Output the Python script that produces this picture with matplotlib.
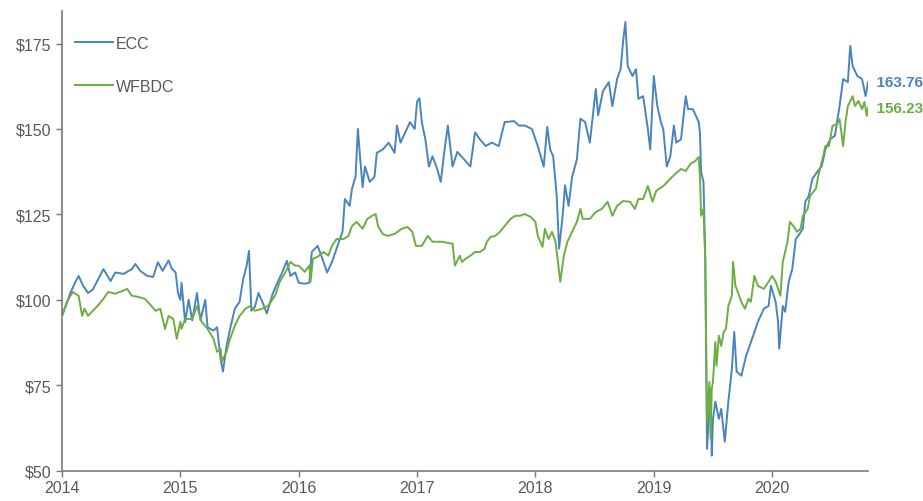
import matplotlib.pyplot as plt

plt.rcParams['font.family'] = ['Liberation Sans', 'DejaVu Sans']

# years since start of 2014, index values
ecc_t = [0.00, 0.04, 0.07, 0.11, 0.14, 0.18, 0.22, 0.26, 0.32, 0.35, 0.41, 0.45, 0.52, 0.59, 0.62,
         0.66, 0.72, 0.77, 0.81, 0.85, 0.90, 0.93, 0.96, 0.98, 1.00, 1.01, 1.04, 1.07, 1.10, 1.14,
         1.17, 1.21, 1.23, 1.28, 1.31, 1.34, 1.36, 1.39, 1.42, 1.46, 1.50, 1.53, 1.56, 1.58, 1.60,
         1.63, 1.66, 1.70, 1.73, 1.78, 1.82, 1.86, 1.90, 1.93, 1.97, 2.00, 2.05, 2.09, 2.11, 2.16,
         2.20, 2.24, 2.28, 2.32, 2.37, 2.39, 2.43, 2.45, 2.48, 2.50, 2.52, 2.54, 2.56, 2.60, 2.64,
         2.66, 2.71, 2.76, 2.81, 2.83, 2.86, 2.90, 2.94, 2.98, 3.00, 3.02, 3.04, 3.07, 3.10, 3.13,
         3.17, 3.20, 3.23, 3.26, 3.30, 3.34, 3.40, 3.45, 3.49, 3.53, 3.58, 3.63, 3.69, 3.74, 3.82,
         3.86, 3.91, 3.97, 4.02, 4.07, 4.10, 4.125, 4.15, 4.18, 4.20, 4.23, 4.25, 4.28, 4.31, 4.35,
         4.38, 4.42, 4.46, 4.51, 4.53, 4.57, 4.62, 4.65, 4.69, 4.72, 4.74, 4.76, 4.78, 4.82, 4.85,
         4.87, 4.91, 4.95, 4.97, 5.00, 5.03, 5.06, 5.08, 5.11, 5.14, 5.17, 5.19, 5.23, 5.27, 5.29,
         5.33, 5.38, 5.39, 5.40, 5.42, 5.435, 5.44, 5.45, 5.48, 5.49, 5.50, 5.52, 5.55, 5.57, 5.60,
         5.63, 5.66, 5.68, 5.70, 5.74, 5.78, 5.84, 5.88, 5.93, 5.97, 5.99, 6.03, 6.05, 6.06, 6.09,
         6.11, 6.14, 6.17, 6.20, 6.22, 6.26, 6.28, 6.31, 6.34, 6.38, 6.42, 6.45, 6.49, 6.53, 6.57,
         6.60, 6.64, 6.66, 6.68, 6.72, 6.76, 6.79, 6.81]
ecc_v = [95.3, 99.0, 102.0, 105.0, 107.0, 104.0, 102.0, 103.0, 107.0, 109.0, 105.5, 108.0, 107.6, 109.0, 110.5,
         108.5, 107.0, 106.7, 111.0, 108.5, 111.5, 109.0, 108.0, 102.0, 100.0, 105.0, 93.5, 100.0, 94.0, 102.0,
         94.0, 100.0, 92.0, 91.0, 92.0, 82.7, 79.0, 86.5, 91.5, 97.4, 99.4, 106.0, 110.0, 114.3, 96.8,
         98.0, 102.0, 98.8, 96.0, 101.8, 105.0, 108.0, 111.4, 107.0, 108.0, 105.0, 104.7, 105.0, 114.0, 115.8,
         112.0, 108.0, 111.0, 115.0, 120.0, 129.5, 127.5, 132.5, 136.0, 150.0, 141.0, 133.0, 139.0, 134.5, 136.0,
         143.0, 144.0, 146.0, 143.0, 151.0, 146.0, 149.0, 152.0, 150.0, 158.0, 159.0, 152.0, 147.0, 139.0, 142.0,
         138.3, 134.5, 143.3, 151.0, 139.0, 143.3, 141.0, 139.0, 149.0, 147.0, 145.0, 146.0, 145.0, 152.0, 152.3,
         151.0, 151.0, 150.0, 145.0, 139.0, 150.6, 144.0, 142.0, 130.4, 115.0, 124.6, 133.5, 127.5, 136.0, 141.0,
         153.0, 152.0, 146.0, 161.7, 154.0, 161.0, 163.7, 156.7, 164.6, 167.5, 175.4, 181.3, 168.4, 165.5, 167.5,
         158.8, 159.6, 150.0, 144.0, 165.5, 156.7, 152.0, 150.0, 139.0, 142.0, 151.0, 146.0, 147.0, 159.6, 155.8,
         155.8, 152.0, 149.0, 137.4, 134.5, 112.9, 93.6, 56.4, 74.0, 54.4, 65.0, 70.2, 65.2, 68.1, 58.5,
         70.2, 79.8, 90.6, 79.0, 77.8, 83.6, 89.5, 93.6, 97.4, 98.2, 104.1, 99.4, 93.6, 85.7, 98.2,
         96.5, 105.3, 109.0, 117.8, 118.7, 120.8, 128.7, 130.4, 135.4, 137.4, 139.2, 144.0, 147.0, 148.0, 156.7,
         164.6, 163.7, 174.3, 168.4, 165.5, 164.6, 159.6, 163.76]

wf_t = [0.00, 0.04, 0.09, 0.14, 0.17, 0.19, 0.22, 0.26, 0.30, 0.35, 0.39, 0.45, 0.51, 0.55, 0.59,
        0.64, 0.70, 0.74, 0.79, 0.83, 0.87, 0.90, 0.94, 0.97, 1.00, 1.01, 1.04, 1.10, 1.14, 1.18,
        1.23, 1.28, 1.31, 1.34, 1.35, 1.39, 1.42, 1.46, 1.50, 1.55, 1.59, 1.63, 1.69, 1.74, 1.80,
        1.84, 1.89, 1.93, 1.97, 2.00, 2.05, 2.09, 2.10, 2.12, 2.16, 2.21, 2.25, 2.28, 2.32, 2.38,
        2.42, 2.45, 2.49, 2.54, 2.58, 2.62, 2.65, 2.67, 2.71, 2.75, 2.81, 2.87, 2.92, 2.96, 2.99,
        3.04, 3.09, 3.13, 3.21, 3.30, 3.32, 3.36, 3.38, 3.41, 3.45, 3.49, 3.53, 3.57, 3.59, 3.62,
        3.66, 3.70, 3.74, 3.79, 3.83, 3.87, 3.91, 3.96, 4.00, 4.02, 4.06, 4.08, 4.11, 4.14, 4.17,
        4.19, 4.21, 4.24, 4.27, 4.31, 4.35, 4.38, 4.40, 4.46, 4.51, 4.56, 4.61, 4.65, 4.69, 4.74,
        4.80, 4.84, 4.87, 4.91, 4.95, 4.99, 5.02, 5.08, 5.14, 5.18, 5.23, 5.27, 5.31, 5.35, 5.38,
        5.39, 5.40, 5.42, 5.435, 5.44, 5.45, 5.47, 5.48, 5.49, 5.50, 5.52, 5.53, 5.55, 5.57, 5.59,
        5.61, 5.63, 5.66, 5.67, 5.69, 5.71, 5.74, 5.77, 5.80, 5.82, 5.85, 5.88, 5.93, 5.97, 6.00,
        6.03, 6.07, 6.09, 6.13, 6.15, 6.18, 6.21, 6.24, 6.26, 6.30, 6.32, 6.37, 6.39, 6.42, 6.45,
        6.48, 6.51, 6.55, 6.57, 6.60, 6.62, 6.64, 6.68, 6.70, 6.73, 6.76, 6.78, 6.80, 6.81]
wf_v = [95.3, 99.4, 102.3, 101.2, 95.3, 97.4, 95.3, 96.8, 98.2, 100.3, 102.3, 101.8, 102.6, 103.2, 101.2,
        100.9, 100.3, 98.8, 96.8, 97.4, 91.5, 95.3, 94.4, 88.6, 93.6, 91.5, 94.4, 94.4, 98.2, 93.6,
        91.5, 88.6, 84.8, 85.7, 81.9, 84.8, 88.6, 92.4, 95.3, 97.4, 98.2, 96.8, 97.4, 98.2, 101.2,
        105.3, 108.2, 111.1, 110.0, 110.0, 108.2, 110.0, 105.3, 112.0, 112.6, 114.0, 112.9, 115.8, 117.8, 117.8,
        118.7, 121.6, 122.8, 120.8, 123.7, 124.6, 125.1, 121.6, 119.3, 118.7, 119.3, 120.8, 121.3, 119.9, 115.8,
        115.8, 118.7, 117.0, 117.0, 116.4, 110.0, 112.9, 111.1, 112.0, 112.9, 114.0, 114.0, 114.9, 117.0, 118.4,
        118.7, 119.9, 121.6, 123.7, 124.6, 124.6, 125.1, 124.3, 122.8, 118.7, 115.5, 120.8, 117.8, 119.9, 117.0,
        111.1, 105.3, 112.9, 117.0, 119.9, 122.8, 126.6, 123.7, 123.7, 125.7, 126.6, 128.7, 124.6, 127.5, 128.9,
        128.7, 126.6, 129.5, 129.5, 133.3, 128.7, 131.9, 133.3, 135.4, 136.8, 138.3, 137.7, 139.8, 140.6, 141.8,
        136.3, 124.6, 126.6, 111.1, 93.6, 64.3, 76.0, 59.4, 74.0, 76.0, 87.7, 80.7, 89.5, 86.5, 90.6,
        91.5, 98.2, 101.2, 111.1, 104.1, 102.3, 99.4, 97.4, 100.3, 99.4, 107.0, 104.1, 103.2, 105.3, 107.0,
        105.3, 101.2, 111.1, 117.0, 122.8, 121.6, 119.9, 120.8, 124.6, 126.6, 130.4, 132.5, 136.3, 140.4, 145.0,
        145.0, 150.9, 151.5, 152.9, 145.0, 152.0, 156.7, 159.6, 156.7, 158.2, 155.8, 157.9, 153.8, 156.23]

years = [2014, 2015, 2016, 2017, 2018, 2019, 2020]
yticks = [50, 75, 100, 125, 150, 175]

blue = '#4a84bd'
green = '#6cae41'
grey = '#595959'

fig = plt.figure(figsize=(9.23, 5.02), dpi=100)
ax = fig.add_axes([0.0672, 0.0603, 0.8732, 0.9157])

ax.plot([2014 + t for t in ecc_t], ecc_v, color=blue, lw=1.4, label='ECC')
ax.plot([2014 + t for t in wf_t], wf_v, color=green, lw=1.4, label='WFBDC')

x_end = 2014 + ecc_t[-1]
ax.set_xlim(2014, x_end)
ax.set_ylim(50, 184.5)
ax.set_xticks(years)
ax.set_yticks(yticks)
ax.set_yticklabels(['$' + str(v) for v in yticks])

for s in ['top', 'right']:
    ax.spines[s].set_visible(False)
for s in ['left', 'bottom']:
    ax.spines[s].set_color('#7a7a7a')
    ax.spines[s].set_linewidth(1.2)
ax.tick_params(colors='#7a7a7a', labelcolor=grey, labelsize=11.5, length=4, width=1.0)
ax.tick_params(axis='x', pad=3)

ax.text(x_end, ecc_v[-1], '  ' + f'{ecc_v[-1]:.2f}', color=blue, fontsize=11,
        fontweight='bold', va='center', ha='left', clip_on=False)
ax.text(x_end, wf_v[-1], '  ' + f'{wf_v[-1]:.2f}', color=green, fontsize=11,
        fontweight='bold', va='center', ha='left', clip_on=False)

leg = ax.legend(loc='upper left', bbox_to_anchor=(0.016, 0.946), frameon=False, fontsize=11.5,
                handlelength=2.4, handletextpad=0.15, labelspacing=1.75, borderpad=0, borderaxespad=0)
for t in leg.get_texts():
    t.set_color(grey)

fig.savefig('out.png', dpi=100)
